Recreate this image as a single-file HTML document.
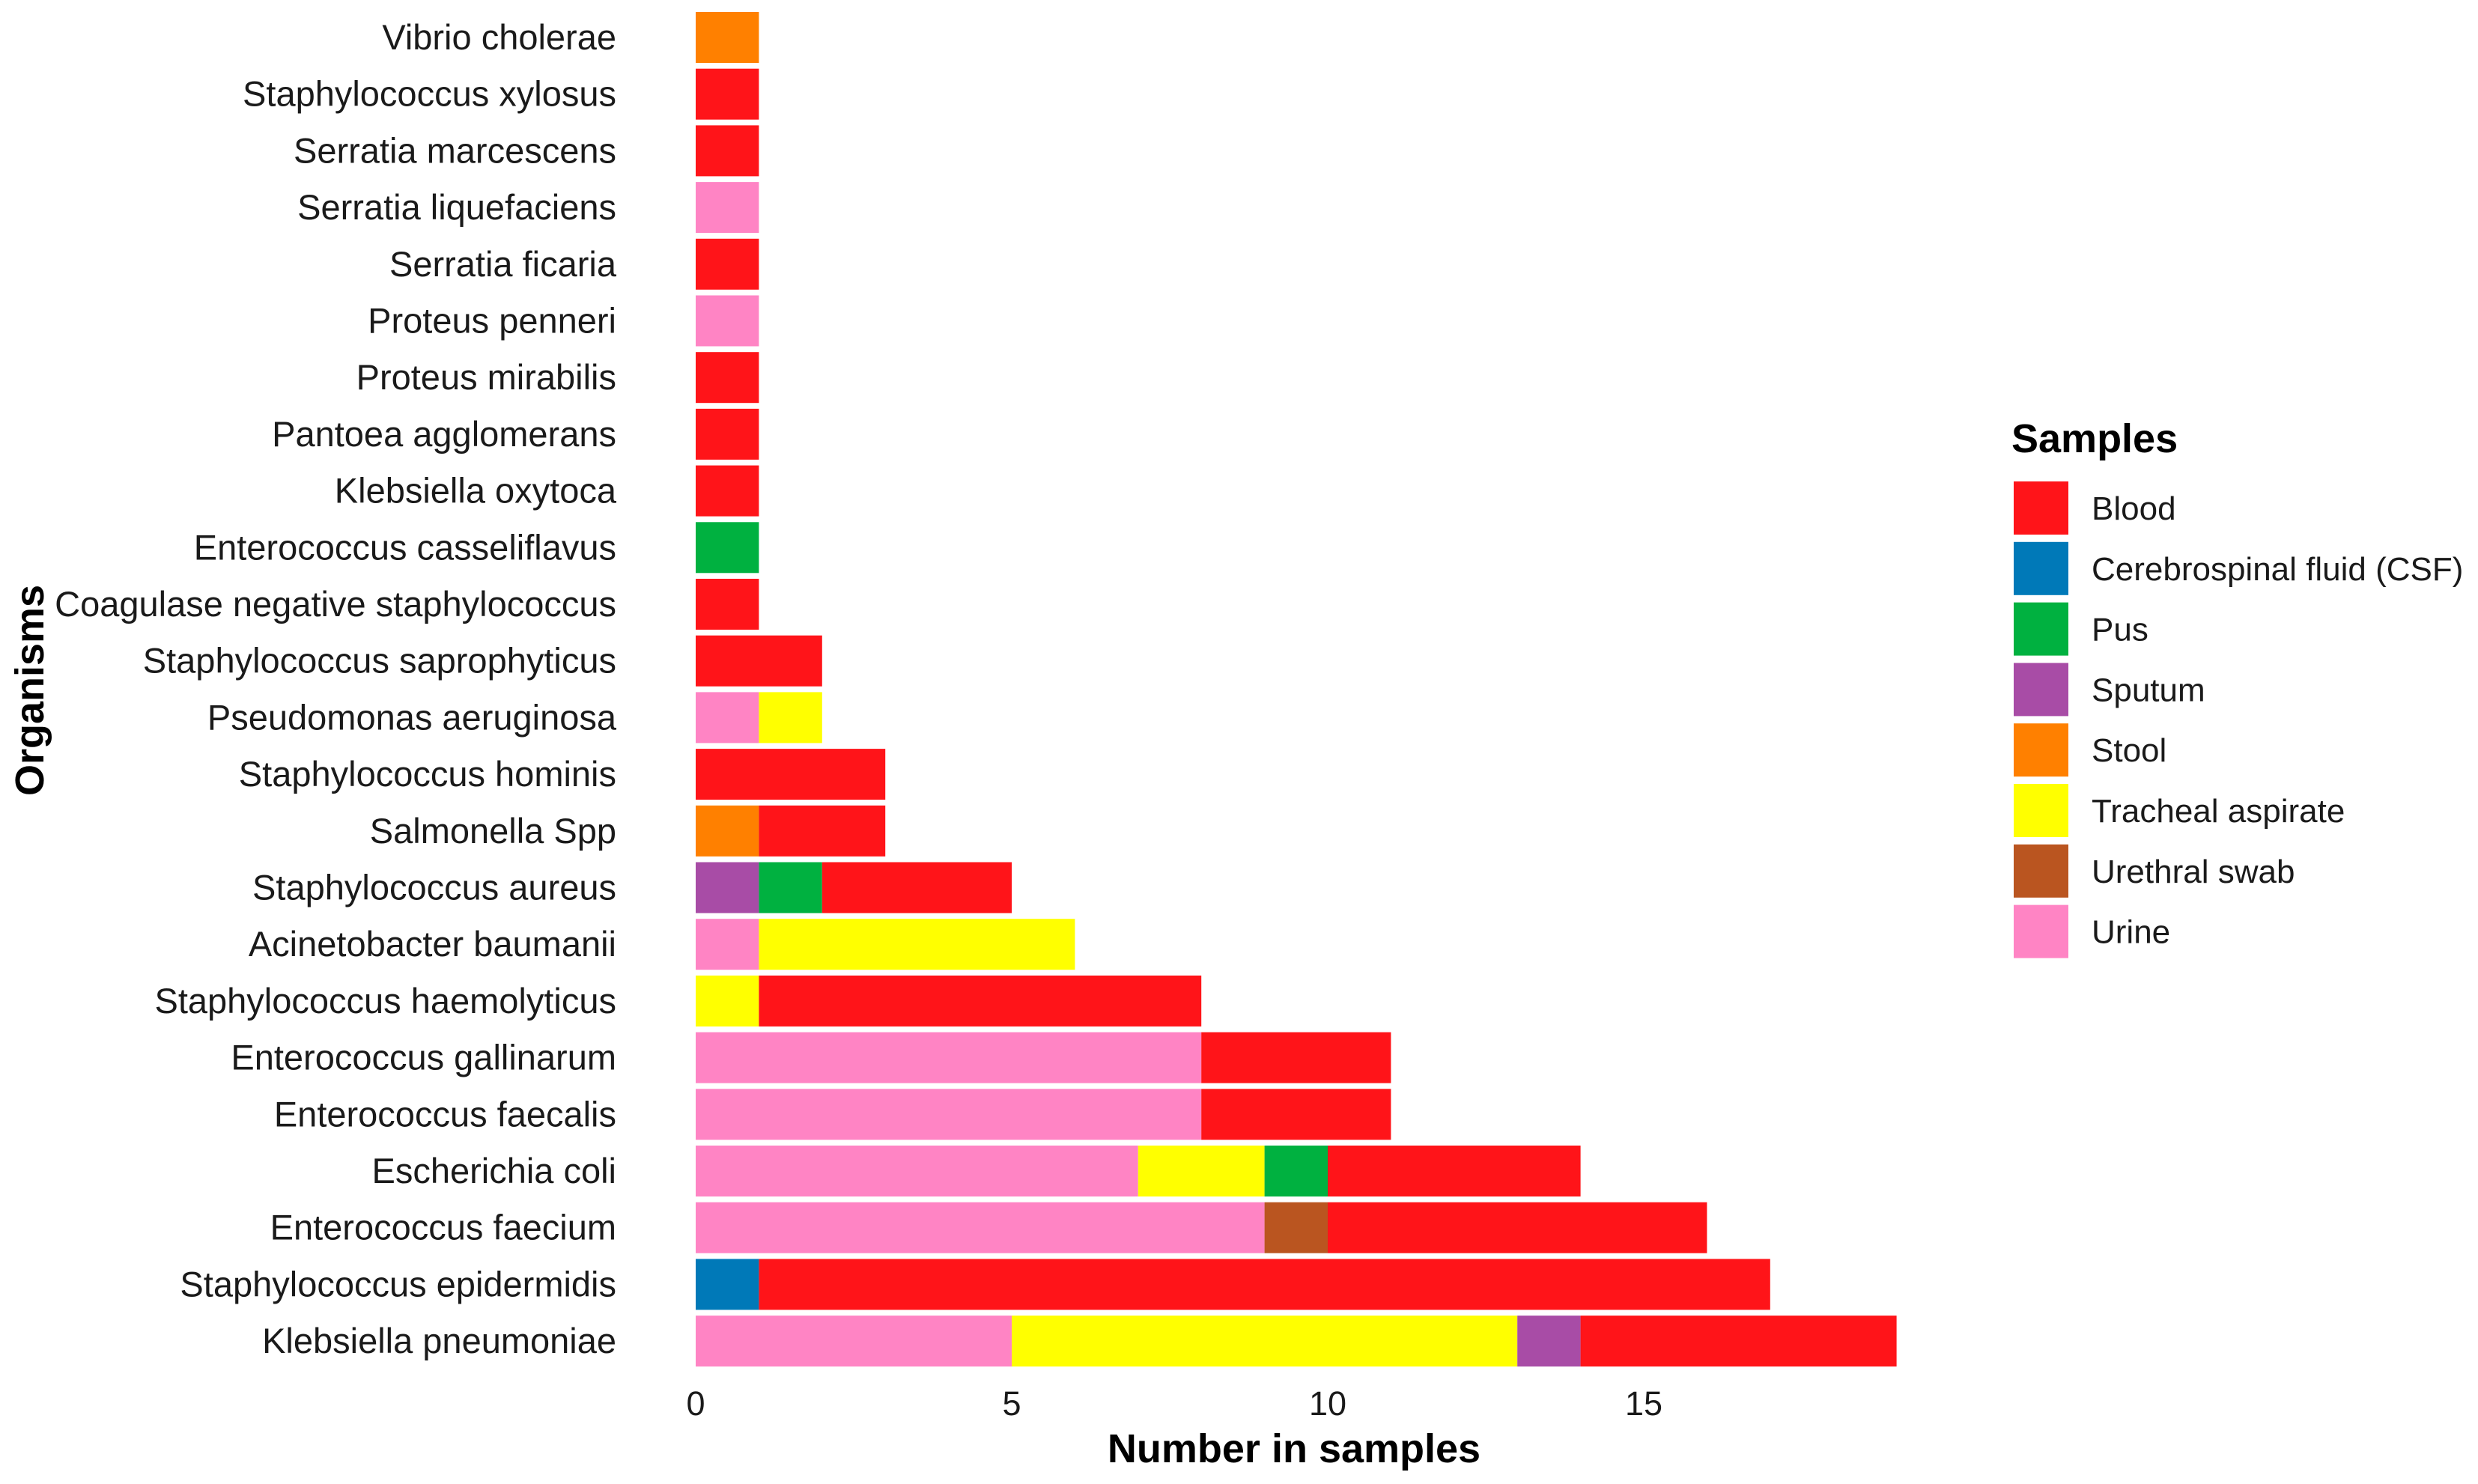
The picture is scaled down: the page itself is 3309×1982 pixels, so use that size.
<!DOCTYPE html>
<html><head><meta charset="utf-8"><style>
html,body{margin:0;padding:0;background:#fff;}
svg{display:block;font-family:"Liberation Sans",Arial,sans-serif;}
</style></head><body>
<svg id="chart" width="3309" height="1982" viewBox="0 0 3309 1982" xmlns="http://www.w3.org/2000/svg">
<g id="bars"></g>
<g id="ylabels"></g>
<g id="xticks"></g>
<text x="0" y="0" transform="translate(58,922) rotate(-90)" text-anchor="middle" font-size="54" font-weight="bold">Organisms</text>
<text x="1728" y="1953" text-anchor="middle" font-size="54" font-weight="bold">Number in samples</text>
<g id="legend"></g>
</svg>
<script>
const organisms = ["Vibrio cholerae","Staphylococcus xylosus","Serratia marcescens","Serratia liquefaciens","Serratia ficaria","Proteus penneri","Proteus mirabilis","Pantoea agglomerans","Klebsiella oxytoca","Enterococcus casseliflavus","Coagulase negative staphylococcus","Staphylococcus saprophyticus","Pseudomonas aeruginosa","Staphylococcus hominis","Salmonella Spp","Staphylococcus aureus","Acinetobacter baumanii","Staphylococcus haemolyticus","Enterococcus gallinarum","Enterococcus faecalis","Escherichia coli","Enterococcus faecium","Staphylococcus epidermidis","Klebsiella pneumoniae"];
const sampleTypes = ["Blood","Cerebrospinal fluid (CSF)","Pus","Sputum","Stool","Tracheal aspirate","Urethral swab","Urine"];
const sampleColors = ["#FF1419","#0079B8","#00B140","#A84CA6","#FF8000","#FFFF00","#BA5520","#FF84C4"];
const blood   = [0,1,1,0,1,0,1,1,1,0,1,2,0,3,2,3,0,7,3,3,4,6,16,5];
const csf     = [0,0,0,0,0,0,0,0,0,0,0,0,0,0,0,0,0,0,0,0,0,0,1,0];
const pus     = [0,0,0,0,0,0,0,0,0,1,0,0,0,0,0,1,0,0,0,0,1,0,0,0];
const sputum  = [0,0,0,0,0,0,0,0,0,0,0,0,0,0,0,1,0,0,0,0,0,0,0,1];
const stool   = [1,0,0,0,0,0,0,0,0,0,0,0,0,0,1,0,0,0,0,0,0,0,0,0];
const tracheal= [0,0,0,0,0,0,0,0,0,0,0,0,1,0,0,0,5,1,0,0,2,0,0,8];
const urethral= [0,0,0,0,0,0,0,0,0,0,0,0,0,0,0,0,0,0,0,0,0,1,0,0];
const urine   = [0,0,0,1,0,1,0,0,0,0,0,0,1,0,0,0,1,0,8,8,7,9,0,5];
const xTicks = [0,5,10,15];

const series = [blood,csf,pus,sputum,stool,tracheal,urethral,urine];
const NS="http://www.w3.org/2000/svg";
const x0=929, pxPerUnit=84.4, yTop=50, rowPitch=75.7, barH=68;
const xs = v => x0 + v*pxPerUnit;
const yc = i => yTop + i*rowPitch;
function mk(tag, attrs, parent){const e=document.createElementNS(NS,tag);for(const k in attrs)e.setAttribute(k,attrs[k]);parent.appendChild(e);return e;}
const gb=document.getElementById('bars'), gl=document.getElementById('ylabels'), gx=document.getElementById('xticks'), gleg=document.getElementById('legend');
const order=[7,6,5,4,3,2,1,0];
organisms.forEach((name,i)=>{
  let cum=0;
  order.forEach(s=>{
    const v=series[s][i];
    if(v>0){
      const r=mk('rect',{x:xs(cum),y:yc(i)-barH/2,width:xs(cum+v)-xs(cum),height:barH,fill:sampleColors[s]},gb);
      
      
      cum+=v;
    }
  });
  const t=mk('text',{x:823,y:yc(i)+16,'text-anchor':'end','font-size':47,fill:'#1a1a1a'},gl);
  
  
  t.textContent=name;
});
xTicks.forEach(v=>{
  const t=mk('text',{x:xs(v),y:1890,'text-anchor':'middle','font-size':45,fill:'#1a1a1a'},gx);
  
  
  t.textContent=v;
});
const lt=mk('text',{x:2686,y:604,'font-size':54,'font-weight':'bold'},gleg);


lt.textContent='Samples';
sampleTypes.forEach((s,k)=>{
  const top=643+k*80.8;
  const sw=mk('rect',{x:2689,y:top,width:73,height:71,fill:sampleColors[k]},gleg);
  
  
  const t=mk('text',{x:2793,y:top+51,'font-size':44,fill:'#1a1a1a'},gleg);
  
  
  t.textContent=s;
});
</script>
</body></html>
